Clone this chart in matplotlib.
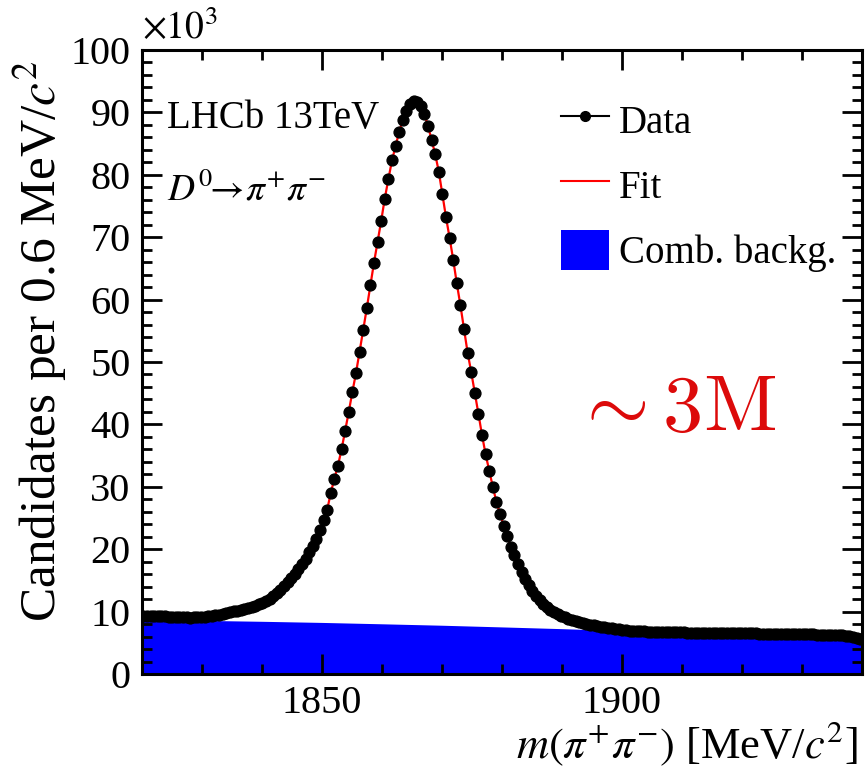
import numpy as np
import matplotlib
matplotlib.use('Agg')
import matplotlib.pyplot as plt
from matplotlib.lines import Line2D
from matplotlib.patches import Patch
from matplotlib.ticker import MultipleLocator

# m(pi+ pi-) histogram, 200 bins of 0.6 MeV from 1820 to 1940, counts in units of 10^3
bin_width = 0.6
mass_low = 1820.0
counts = [
    9.36, 9.31, 9.33, 9.28, 9.29, 9.24, 9.22, 9.20, 9.14, 9.13,
    9.11, 9.07, 9.06, 9.04, 9.07, 9.08, 9.13, 9.16, 9.23, 9.28,
    9.38, 9.49, 9.58, 9.77, 9.88, 10.02, 10.14, 10.32, 10.48, 10.62,
    10.80, 10.98, 11.18, 11.45, 11.75, 12.08, 12.48, 12.92, 13.45, 14.05,
    14.70, 15.35, 16.05, 16.80, 17.60, 18.50, 19.50, 20.55, 21.70, 23.00,
    24.70, 26.30, 29.00, 31.30, 33.40, 36.00, 39.00, 42.00, 45.20, 48.20,
    51.60, 55.10, 58.60, 62.30, 65.90, 69.20, 72.60, 76.20, 79.30, 82.30,
    84.60, 86.90, 88.80, 90.30, 91.30, 91.80, 91.70, 91.00, 89.80, 87.80,
    85.60, 83.30, 80.50, 76.90, 73.20, 69.90, 66.40, 62.60, 59.10, 55.30,
    51.50, 48.40, 45.10, 41.70, 38.30, 35.20, 32.60, 30.00, 27.60, 25.70,
    23.80, 22.10, 20.40, 19.00, 17.70, 16.40, 15.30, 14.20, 13.30, 12.50,
    11.80, 11.20, 10.70, 10.30, 9.95, 9.62, 9.33, 9.07, 8.84, 8.63,
    8.45, 8.29, 8.14, 8.01, 7.89, 7.78, 7.68, 7.59, 7.51, 7.43,
    7.30, 7.22, 7.15, 7.08, 7.02, 6.97, 6.93, 6.89, 6.85, 6.82,
    6.80, 6.78, 6.76, 6.74, 6.72, 6.71, 6.70, 6.69, 6.68, 6.67,
    6.66, 6.65, 6.64, 6.63, 6.62, 6.62, 6.61, 6.60, 6.59, 6.58,
    6.58, 6.57, 6.56, 6.55, 6.55, 6.54, 6.53, 6.52, 6.52, 6.51,
    6.50, 6.49, 6.48, 6.47, 6.47, 6.46, 6.45, 6.44, 6.43, 6.42,
    6.41, 6.40, 6.39, 6.38, 6.37, 6.36, 6.35, 6.33, 6.32, 6.30,
    6.28, 6.26, 6.24, 6.21, 6.18, 6.14, 6.08, 6.00, 5.85, 5.55,
]

# combinatorial background component
bkg_mass = [1820, 1830, 1840, 1850, 1860, 1870, 1880, 1890, 1900, 1910, 1920, 1930, 1940]
bkg_counts = [8.70, 8.60, 8.45, 8.27, 8.05, 7.82, 7.55, 7.27, 6.95, 6.62, 6.25, 5.88, 5.45]

centers = mass_low + bin_width * (np.arange(len(counts)) + 0.5)

plt.rcParams['font.family'] = ['Liberation Serif', 'DejaVu Serif']
plt.rcParams['mathtext.fontset'] = 'stix'

fig = plt.figure(figsize=(8.67, 7.69), dpi=100)
ax = fig.add_axes([0.1634, 0.1235, 0.8308, 0.8115])

ax.fill_between(bkg_mass, 0, bkg_counts, color='#0000ff', lw=0, zorder=1)
ax.plot(centers, counts, color='#ff0000', lw=1.6, zorder=2)
ax.plot(centers, counts, 'o', color='black', ms=7.8, zorder=3)

ax.set_xlim(1820, 1940)
ax.set_ylim(0, 100)
ax.xaxis.set_major_locator(MultipleLocator(50))
ax.xaxis.set_minor_locator(MultipleLocator(10))
ax.yaxis.set_major_locator(MultipleLocator(10))
ax.yaxis.set_minor_locator(MultipleLocator(2))
ax.tick_params(which='both', direction='in', top=True, right=True, width=2.0, labelsize=29)
ax.tick_params(which='major', length=14.5, pad=8)
ax.tick_params(which='minor', length=7.2)
for s in ax.spines.values():
    s.set_linewidth(2.2)

ax.set_ylabel(r'Candidates per 0.6 MeV/$c^{2}$', fontsize=37, va='center')
ax.yaxis.set_label_coords(-0.141, 0.534)
ax.set_xlabel(r'$m(\pi^{+}\pi^{-})$ [MeV/$c^{2}$]', fontsize=32, ha='right', va='center')
ax.xaxis.set_label_coords(0.995, -0.112)

ax.text(0.0, 1.005, r'$\times10^{3}$', transform=ax.transAxes, fontsize=27, va='bottom', ha='left')
ax.text(0.035, 0.891, 'LHCb 13TeV', transform=ax.transAxes, fontsize=28, va='center')
ax.text(0.035, 0.776, r'$D^{0}\!\!\rightarrow\!\pi^{+}\pi^{-}$', transform=ax.transAxes, fontsize=27, va='center')
ax.text(0.597, 0.42, r'$\sim 3\mathrm{M}$', transform=ax.transAxes, fontsize=58,
        color='#dc0a0a', math_fontfamily='cm', va='center')

handles = [
    Line2D([], [], color='black', lw=1.5, marker='o', ms=7),
    Line2D([], [], color='#ff0000', lw=1.5),
    Patch(facecolor='#0000ff', edgecolor='none'),
]
ax.legend(handles, ['Data', 'Fit', 'Comb. backg.'], loc='upper left', bbox_to_anchor=(0.56, 0.9455),
          frameon=False, fontsize=28, handlelength=1.25, handleheight=1.2, handletextpad=0.25,
          labelspacing=0.6, borderaxespad=0)

fig.savefig('out.png', dpi=100)
